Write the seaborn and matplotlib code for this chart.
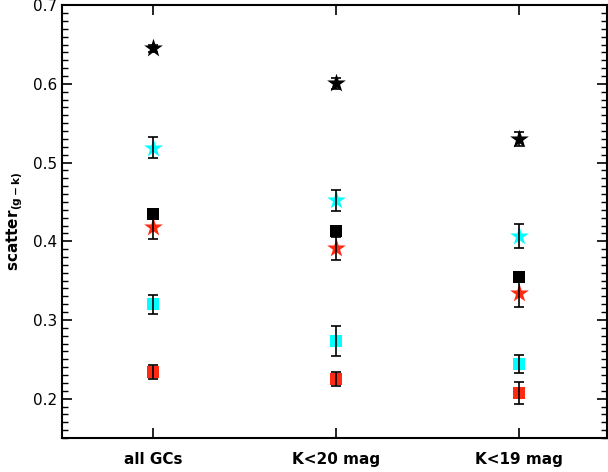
import matplotlib
matplotlib.use("Agg")
import matplotlib.pyplot as plt
import seaborn as sns
import pandas as pd
import numpy as np
from matplotlib.ticker import MultipleLocator

categories = ["all GCs", "K<20 mag", "K<19 mag"]

black_star = [0.645, 0.601, 0.530]
black_star_err = [0.004, 0.007, 0.009]
cyan_star = [0.519, 0.452, 0.407]
cyan_star_err = [0.013, 0.013, 0.015]
black_square = [0.435, 0.413, 0.354]
black_square_err = [0.003, 0.003, 0.004]
red_star = [0.418, 0.391, 0.334]
red_star_err = [0.015, 0.015, 0.017]
cyan_square = [0.320, 0.273, 0.244]
cyan_square_err = [0.012, 0.019, 0.012]
red_square = [0.234, 0.225, 0.207]
red_square_err = [0.009, 0.009, 0.014]

series = [
    ("black_star", black_star, black_star_err, "black", "*"),
    ("cyan_star", cyan_star, cyan_star_err, "#00FFFF", "*"),
    ("black_square", black_square, black_square_err, "black", "s"),
    ("red_star", red_star, red_star_err, "#FF2A12", "*"),
    ("cyan_square", cyan_square, cyan_square_err, "#00FFFF", "s"),
    ("red_square", red_square, red_square_err, "#FF2A12", "s"),
]

rows = []
for name, vals, errs, color, marker in series:
    for i, (v, e) in enumerate(zip(vals, errs)):
        rows.append(dict(series=name, x=i, y=v, err=e))
df = pd.DataFrame(rows)

sns.set_style("ticks")
plt.rcParams["font.family"] = ["DejaVu Sans"]
plt.rcParams["text.color"] = "black"
plt.rcParams["axes.labelcolor"] = "black"
plt.rcParams["xtick.color"] = "black"
plt.rcParams["ytick.color"] = "black"

fig = plt.figure(figsize=(6.08, 4.72), dpi=100)
ax = fig.add_axes([0.102, 0.072, 0.896, 0.917])

for name, vals, errs, color, marker in series:
    sub = df[df["series"] == name]
    size = 200 if marker == "*" else 70
    sns.scatterplot(data=sub, x="x", y="y", ax=ax, color=color, marker=marker,
                    s=size, linewidth=0, zorder=2, legend=False)
    ax.errorbar(sub["x"], sub["y"], yerr=sub["err"], fmt="none", ecolor="black",
                elinewidth=1.2, capsize=3.5, capthick=1.2, zorder=3)

ax.set_xlim(-0.5, 2.48)
ax.set_ylim(0.15, 0.7)
ax.set_xticks([0, 1, 2])
ax.set_xticklabels(categories, fontweight="bold", fontsize=10)
ax.yaxis.set_major_locator(MultipleLocator(0.1))
ax.yaxis.set_minor_locator(MultipleLocator(0.01))
ax.yaxis.set_major_formatter(matplotlib.ticker.FormatStrFormatter("%.1f"))
ax.tick_params(axis="both", which="major", direction="in", length=7, width=1.2,
               top=True, right=True, labelsize=11, colors="black")
ax.tick_params(axis="y", which="minor", direction="in", length=4, width=1,
               left=True, right=True, colors="black")
ax.tick_params(axis="x", which="major", pad=10)
ax.set_xlabel("")
ax.set_ylabel(r"scatter$_{\mathbf{(g-k)}}$", fontweight="bold", fontsize=11,
              labelpad=6, color="black")
for s in ax.spines.values():
    s.set_linewidth(1.5)
    s.set_color("black")

fig.savefig("out.png", dpi=100)
